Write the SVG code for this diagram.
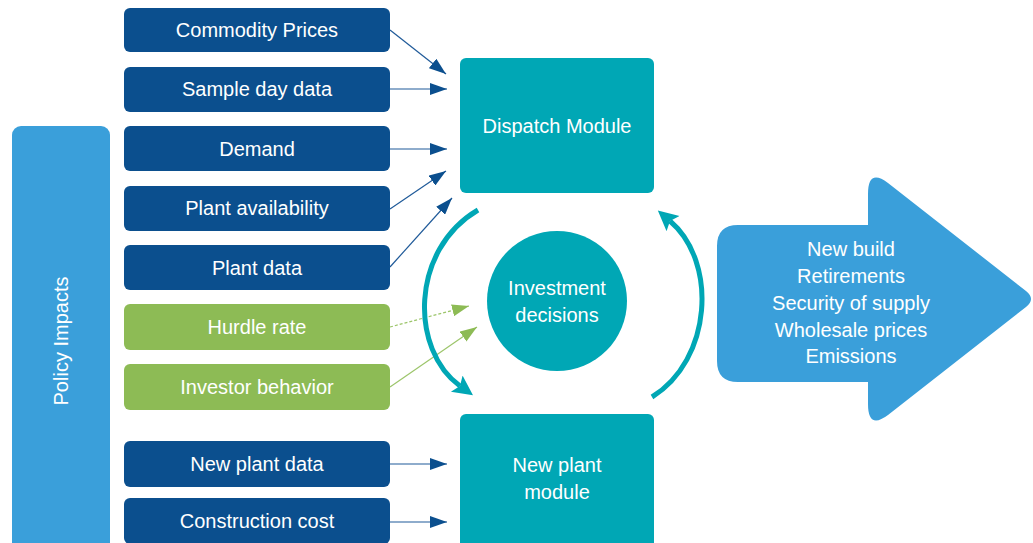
<svg xmlns="http://www.w3.org/2000/svg" width="1033" height="543" viewBox="0 0 1033 543">
  <style>
    .lbl { font-family: "Liberation Sans", Arial, sans-serif; font-size: 20px; fill: #ffffff; text-anchor: middle; }
    .input { fill: #0b4f8e; }
    .invest { fill: #8dbb55; }
    .module { fill: #00a7b5; }
    .policy { fill: #3a9fda; }
    .blue-link { stroke: #1f5a99; stroke-width: 1.2; fill: none; marker-end: url(#headBlue); }
    .green-link { stroke: #9cc56a; stroke-width: 1.2; fill: none; marker-end: url(#headGreen); }
    .loop { stroke: #00a7b5; stroke-width: 5; fill: none; marker-end: url(#headTeal); }
  </style>
  <defs>
    <marker id="headBlue" markerUnits="userSpaceOnUse" markerWidth="18" markerHeight="12" refX="17" refY="6" orient="auto">
      <path d="M0,0 L17,6 L0,12 Z" fill="#0b4f8e"/>
    </marker>
    <marker id="headGreen" markerUnits="userSpaceOnUse" markerWidth="18" markerHeight="12" refX="17" refY="6" orient="auto">
      <path d="M0,0 L17,6 L0,12 Z" fill="#8dbb55"/>
    </marker>
    <marker id="headTeal" markerUnits="userSpaceOnUse" markerWidth="22" markerHeight="22" refX="4" refY="10" orient="auto">
      <path d="M0,0 L20,10 L0,20 L4,10 Z" fill="#00a7b5"/>
    </marker>
  </defs>

  <!-- side band -->
  <g id="policy-impacts">
    <rect class="policy" x="12" y="126" width="98" height="430" rx="9"/>
    <text class="lbl" transform="translate(68,341) rotate(-90)">Policy Impacts</text>
  </g>

  <!-- input boxes -->
  <g id="commodity-prices">
    <rect class="input" x="124" y="8" width="266" height="44" rx="6"/>
    <text class="lbl" x="257" y="37">Commodity Prices</text>
  </g>
  <g id="sample-day-data">
    <rect class="input" x="124" y="67" width="266" height="45" rx="6"/>
    <text class="lbl" x="257" y="96">Sample day data</text>
  </g>
  <g id="demand">
    <rect class="input" x="124" y="126" width="266" height="45" rx="6"/>
    <text class="lbl" x="257" y="156">Demand</text>
  </g>
  <g id="plant-availability">
    <rect class="input" x="124" y="186" width="266" height="45" rx="6"/>
    <text class="lbl" x="257" y="215">Plant availability</text>
  </g>
  <g id="plant-data">
    <rect class="input" x="124" y="245" width="266" height="45" rx="6"/>
    <text class="lbl" x="257" y="275">Plant data</text>
  </g>
  <g id="hurdle-rate">
    <rect class="invest" x="124" y="304" width="266" height="46" rx="6"/>
    <text class="lbl" x="257" y="334">Hurdle rate</text>
  </g>
  <g id="investor-behavior">
    <rect class="invest" x="124" y="364" width="266" height="46" rx="6"/>
    <text class="lbl" x="257" y="394">Investor behavior</text>
  </g>
  <g id="new-plant-data">
    <rect class="input" x="124" y="441" width="266" height="46" rx="6"/>
    <text class="lbl" x="257" y="471">New plant data</text>
  </g>
  <g id="construction-cost">
    <rect class="input" x="124" y="498" width="266" height="46" rx="6"/>
    <text class="lbl" x="257" y="528">Construction cost</text>
  </g>

  <!-- modules -->
  <g id="dispatch-module">
    <rect class="module" x="460" y="58" width="194" height="135" rx="6"/>
    <text class="lbl" x="557" y="133">Dispatch Module</text>
  </g>
  <g id="investment-decisions">
    <circle class="module" cx="557" cy="301" r="70"/>
    <text class="lbl" x="557" y="295">Investment</text>
    <text class="lbl" x="557" y="322">decisions</text>
  </g>
  <g id="new-plant-module">
    <rect class="module" x="460" y="414" width="194" height="140" rx="6"/>
    <text class="lbl" x="557" y="472">New plant</text>
    <text class="lbl" x="557" y="499">module</text>
  </g>

  <!-- outputs arrow -->
  <g id="outputs">
    <path class="policy" d="M738 225 H868 V194 Q868 168 888 183 L1026 291 Q1036 299 1026 307 L888 415 Q868 430 868 404 V382 H738 Q717 382 717 361 V246 Q717 225 738 225 Z"/>
    <text class="lbl" x="851" y="256">New build</text>
    <text class="lbl" x="851" y="283">Retirements</text>
    <text class="lbl" x="851" y="310">Security of supply</text>
    <text class="lbl" x="851" y="337">Wholesale prices</text>
    <text class="lbl" x="851" y="363">Emissions</text>
  </g>

  <!-- connectors -->
  <g id="connectors">
    <line class="blue-link" x1="390" y1="30" x2="446" y2="74"/>
    <line class="blue-link" x1="390" y1="89" x2="447" y2="89"/>
    <line class="blue-link" x1="390" y1="149" x2="447" y2="149"/>
    <line class="blue-link" x1="390" y1="209" x2="446" y2="171"/>
    <line class="blue-link" x1="390" y1="267" x2="452" y2="198"/>
    <line class="green-link" x1="390" y1="327" x2="469" y2="306" stroke-dasharray="3 2" stroke="#d6e7c4" stroke-width="1"/>
    <line class="green-link" x1="390" y1="387" x2="477" y2="327"/>
    <line class="blue-link" x1="390" y1="464" x2="447" y2="464"/>
    <line class="blue-link" x1="390" y1="522" x2="447" y2="522"/>
    <path class="loop" d="M478 210 C410 250 410 350 460 386"/>
    <path class="loop" d="M652 397 C712 360 718 262 670 221"/>
  </g>
</svg>
